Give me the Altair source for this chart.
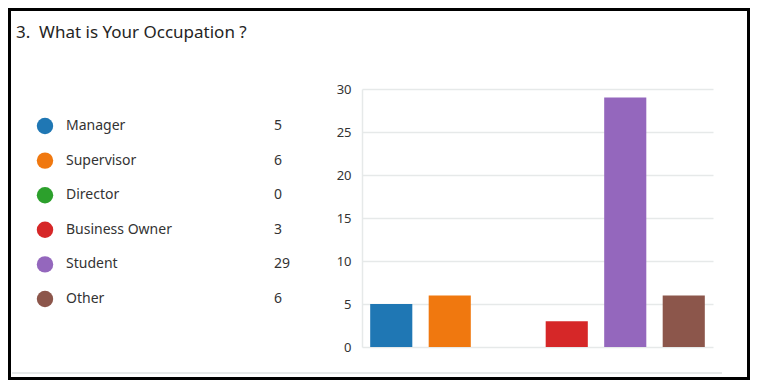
import altair as alt
import pandas as pd

categories = ["Manager", "Supervisor", "Director", "Business Owner", "Student", "Other"]
counts = [5, 6, 0, 3, 29, 6]
colors = ["#1f77b4", "#f0780f", "#2ca02c", "#d62728", "#9467bd", "#8c564b"]
y_ticks = [0, 5, 10, 15, 20, 25, 30]
title_text = "3.\u00a0 What is Your Occupation ?"

df = pd.DataFrame({"category": categories, "count": counts})
one = pd.DataFrame({"t": [title_text]})

W, H = 351, 258
PL, PT, PR, PB = 354, 81, 37, 33
FONT = "Noto Sans"

color = alt.Color("category:N", scale=alt.Scale(domain=categories, range=colors), legend=None)

bars = alt.Chart(df).mark_bar().encode(
    x=alt.X("category:N", sort=categories,
            scale=alt.Scale(paddingInner=0.28, paddingOuter=0.14), axis=None),
    y=alt.Y("count:Q", scale=alt.Scale(domain=[0, 30], nice=False),
            axis=alt.Axis(values=y_ticks, title=None, grid=True, gridColor="#e6e9e9",
                          gridWidth=1.5, domainColor="#e6e9e9", domainWidth=1.5,
                          ticks=False, labelPadding=11, labelFontSize=13,
                          labelColor="#333333", labelFont=FONT)),
    color=color,
)

legend_y = alt.Y("category:N", sort=categories,
                 scale=alt.Scale(type="point", domain=categories, range=[37, 210], padding=0),
                 axis=None)

circles = alt.Chart(df).mark_circle(size=270, opacity=1).encode(
    x=alt.value(-317), y=legend_y, color=color)

labels = alt.Chart(df).mark_text(align="left", baseline="middle", fontSize=14,
                                 color="#333333", font=FONT).encode(
    x=alt.value(-296), y=legend_y, text="category:N")

nums = alt.Chart(df).mark_text(align="left", baseline="middle", fontSize=14,
                               color="#333333", font=FONT).encode(
    x=alt.value(-88), y=legend_y, text="count:Q")

title = alt.Chart(one).mark_text(align="left", baseline="alphabetic", fontSize=17,
                                 color="#252423", font=FONT).encode(
    x=alt.value(-346), y=alt.value(-51), text="t:N")

border = alt.Chart(one).mark_rect(fillOpacity=0, stroke="black", strokeWidth=3).encode(
    x=alt.value(-PL + 1.5), x2=alt.value(W + PR - 1.5),
    y=alt.value(-PT + 1.5), y2=alt.value(H + PB - 1.5))

sep = alt.Chart(one).mark_rule(color="#e6e9e9", strokeWidth=2).encode(
    x=alt.value(-PL + 4), x2=alt.value(360), y=alt.value(284))

chart = alt.layer(sep, title, bars, circles, labels, nums, border).resolve_scale(
    y="independent"
).properties(
    width=W, height=H,
    padding={"left": PL, "top": PT, "right": PR, "bottom": PB},
    autosize=alt.AutoSizeParams(type="none"),
).configure(font=FONT).configure_view(stroke=None)

chart.save("out.html", embed_options={"renderer": "svg", "actions": False})
